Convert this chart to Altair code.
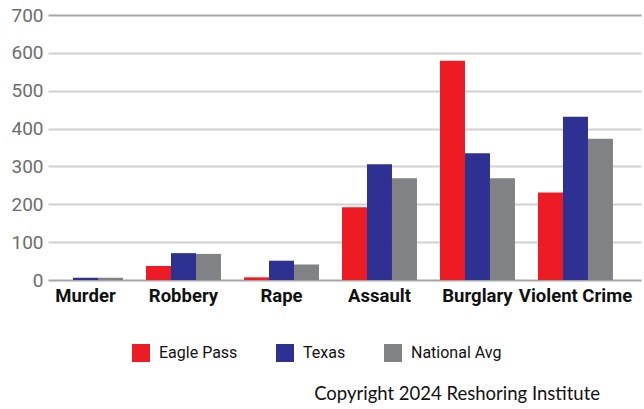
import altair as alt
import pandas as pd

categories = ["Murder", "Robbery", "Rape", "Assault", "Burglary", "Violent Crime"]
series = ["Eagle Pass", "Texas", "National Avg"]
eagle_pass = [0, 37, 7, 192, 579, 231]
texas = [6, 71, 51, 306, 335, 431]
national = [6, 69, 41, 269, 269, 373]
colors = ["#ED1C24", "#2E3192", "#808285"]

rows = []
for vals, s in zip([eagle_pass, texas, national], series):
    for c, v in zip(categories, vals):
        rows.append({"category": c, "series": s, "value": v})
df = pd.DataFrame(rows)

chart = alt.Chart(df).mark_bar().encode(
    x=alt.X("category:N", sort=categories, title=None,
            scale=alt.Scale(paddingInner=0.235, paddingOuter=0.143, align=0),
            axis=alt.Axis(labelAngle=0, domain=False, ticks=False, labelPadding=6,
                          labelFont="Roboto", labelFontWeight="bold", labelFontSize=18.5,
                          labelColor="#111111")),
    xOffset=alt.XOffset("series:N", sort=series, scale=alt.Scale(paddingInner=0, paddingOuter=0)),
    y=alt.Y("value:Q", title=None,
            scale=alt.Scale(domain=[0, 700], nice=False),
            axis=alt.Axis(values=[0, 100, 200, 300, 400, 500, 600, 700], domain=False,
                          ticks=False, labelPadding=5, labelFont="Roboto", labelFontSize=19,
                          labelColor="#6d6d6d", gridWidth=2,
                          gridColor={"condition": {"test": "datum.value == 0 || datum.value == 700",
                                                   "value": "#a6a6a6"}, "value": "#d0d0d0"})),
    color=alt.Color("series:N", sort=series, title=None,
                    scale=alt.Scale(domain=series, range=colors),
                    legend=alt.Legend(orient="none", direction="horizontal", legendX=84, legendY=329,
                                      symbolType="square", symbolSize=324, symbolStrokeWidth=0,
                                      labelFont="Roboto", labelFontSize=16, labelColor="#111111",
                                      labelOffset=9, columnPadding=38)),
).properties(
    width=593,
    height=265,
    autosize=alt.AutoSizeParams(type="none"),
    padding={"left": 48, "top": 15, "right": 3, "bottom": 129},
    title=alt.TitleParams("Copyright 2024 Reshoring Institute", orient="bottom", anchor="end",
                          font="Lato", fontSize=18.5, fontWeight="normal", color="#111111",
                          offset=23, dx=-41),
).configure_view(stroke=None)

chart.save("out.html", embed_options={"renderer": "svg", "actions": False})
